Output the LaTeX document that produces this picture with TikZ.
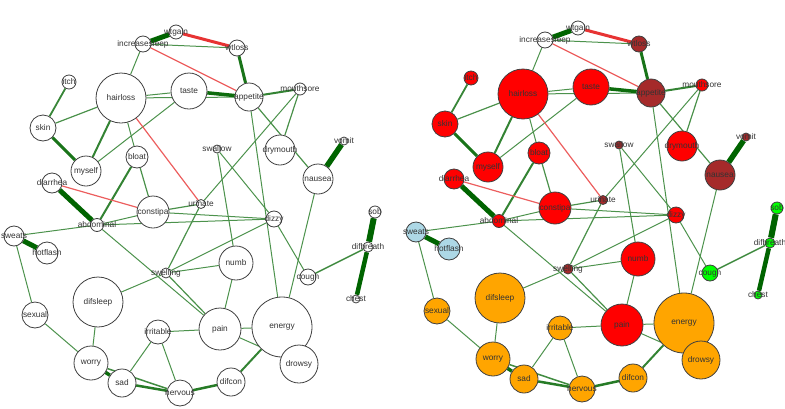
\documentclass[tikz,border=0pt]{standalone}
\usepackage{fontspec}
\setmainfont{Liberation Sans}
\usetikzlibrary{backgrounds}
\definecolor{posc}{RGB}{0,100,0}
\definecolor{negc}{RGB}{228,28,28}
% fills: left copy all white, right copy by group
\colorlet{L-w}{white}\colorlet{L-r}{white}\colorlet{L-b}{white}
\colorlet{L-o}{white}\colorlet{L-lb}{white}\colorlet{L-g}{white}
\colorlet{R-w}{white}
\definecolor{R-r}{RGB}{255,0,0}
\definecolor{R-b}{RGB}{165,42,42}
\definecolor{R-o}{RGB}{255,165,0}
\definecolor{R-lb}{RGB}{173,216,230}
\definecolor{R-g}{RGB}{0,255,0}
\begin{document}
\begin{tikzpicture}[x=1pt,y=-1pt,
  sym/.style={circle,draw=black!75,line width=0.8pt,inner sep=0pt},
  lab/.style={font=\fontsize{8.3}{9}\selectfont,text=black!80,inner sep=0pt}]
\useasboundingbox (0,0) rectangle (785,408);
\foreach \s/\dx/\dy in {L/0/0,R/402/-4}{
\begin{scope}[shift={(\dx,\dy)}]
% symptoms: name/x/y/radius/group
\foreach \n/\x/\y/\r/\g in {
  increasesleep/143/44/8/w, wtgain/176/32/7/w, wtloss/237/48/8/b,
  itch/69/82/7/r, hairloss/121/98/25/r, taste/189/91/18/r,
  appetite/249/97/14/b, mouthsore/300/89/6/r, skin/43/128/13/r,
  myself/86/171/15/r, bloat/137/157/11/r, swallow/217/149/4/b,
  drymouth/280/150/15/r, nausea/318/179/15/b, vomit/344/141/4/b,
  diarrhea/52/183/10/r, constipa/153/212/16/r, urinate/201/204/4.5/b,
  dizzy/274/219/8/r, abdominal/97/225/6.5/r, sweats/14/236/10/lb,
  hotflash/47/253/11/lb, sob/375/212/6/g, difbreath/368/247/5/g,
  swelling/166/273/5/b, numb/236/263/17/r, cough/308/277/8/g,
  chest/356/299/4/g, difsleep/98/302/25/o, sexual/35/315/13/o,
  pain/220/329/21/r, energy/282/327/30/o, irritable/158/332/12/o,
  drowsy/299/364/19/o, worry/91/363/17/o, sad/122/383/14/o,
  nervous/180/393/13/o, difcon/231/382/14/o}
  \node[sym,fill=\s-\g,minimum size={2*\r pt},
    label={[lab]center:\n}] (\s-\n) at (\x,\y) {};
\begin{pgfonlayer}{background}
\foreach \a/\b/\w/\c in {
  increasesleep/wtgain/5/posc, increasesleep/wtloss/1/posc,
  increasesleep/hairloss/1/posc, wtloss/appetite/3/posc,
  hairloss/taste/1/posc, hairloss/appetite/1/posc, taste/appetite/3.5/posc,
  hairloss/skin/1.2/posc, hairloss/myself/2/posc, hairloss/bloat/1/posc,
  itch/skin/1.8/posc, skin/myself/3/posc, myself/taste/1/posc,
  appetite/mouthsore/2/posc, appetite/nausea/1.2/posc, appetite/energy/1/posc,
  mouthsore/drymouth/1.2/posc, mouthsore/urinate/1/posc,
  vomit/nausea/5.5/posc, nausea/energy/1/posc,
  bloat/constipa/1.2/posc, bloat/abdominal/2/posc, diarrhea/abdominal/5/posc,
  abdominal/constipa/1/posc, abdominal/dizzy/1/posc, abdominal/sweats/1/posc,
  abdominal/pain/1/posc, constipa/urinate/1.2/posc, constipa/dizzy/1/posc,
  urinate/swelling/1.2/posc, swallow/numb/1/posc, swallow/dizzy/1/posc,
  swelling/dizzy/1/posc, swelling/numb/1/posc, swelling/pain/1.2/posc,
  swelling/difsleep/1/posc, dizzy/cough/1/posc, cough/difbreath/1.5/posc,
  sob/difbreath/6/posc, difbreath/chest/4.5/posc, sweats/hotflash/5/posc,
  sweats/sexual/1/posc, sexual/worry/1/posc, difsleep/worry/1/posc,
  worry/sad/3.5/posc, worry/nervous/1.5/posc, sad/nervous/2.5/posc,
  sad/irritable/1/posc, irritable/nervous/1/posc, irritable/pain/1/posc,
  nervous/difcon/2.5/posc, difcon/energy/2/posc, numb/pain/1/posc,
  pain/energy/1/posc, pain/drowsy/1/posc, energy/drowsy/1/posc,
  wtgain/wtloss/3/negc, increasesleep/appetite/1.2/negc,
  hairloss/urinate/1.2/negc, diarrhea/constipa/1.2/negc}{
  \pgfmathtruncatemacro\k{min(100,60+10*\w)}
  \draw[draw=\c!\k,line width=\w pt] (\s-\a) -- (\s-\b);
}
\end{pgfonlayer}
\end{scope}
}
\end{tikzpicture}
\end{document}
